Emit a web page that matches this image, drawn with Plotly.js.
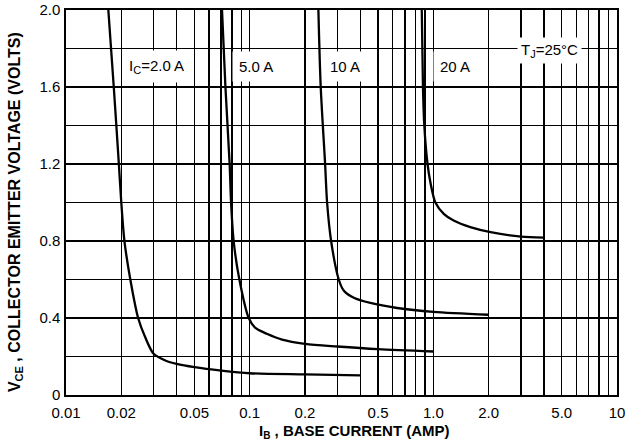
<!DOCTYPE html>
<html>
<head>
<meta charset="utf-8">
<script src="https://cdn.plot.ly/plotly-3.0.1.min.js"></script>
<style>html,body{margin:0;padding:0;background:#fff;}#chart{width:633px;height:444px;}</style>
</head>
<body>
<div id="chart"></div>
<script>
// Base current IB (A) and VCE (V) for each collector current
var ib_2A  = [0.0170,0.0182,0.0194,0.0200,0.0208,0.0224,0.0247,0.0270,0.0300,0.0350,0.0400,0.0500,0.0700,0.1000,0.2000,0.4000];
var vce_2A = [2.0,1.6,1.2,1.0,0.8,0.6,0.4,0.30,0.214,0.178,0.162,0.145,0.127,0.113,0.107,0.102];

var ib_5A  = [0.0707,0.0738,0.0778,0.0792,0.0818,0.0879,0.0988,0.107,0.124,0.150,0.200,0.300,0.500,1.000];
var vce_5A = [2.0,1.6,1.2,1.0,0.8,0.6,0.4,0.35,0.318,0.288,0.266,0.252,0.238,0.226];

var ib_10A  = [0.2367,0.2437,0.2575,0.264,0.2776,0.3055,0.325,0.369,0.454,0.635,1.0,2.0];
var vce_10A = [2.0,1.6,1.2,1.0,0.8,0.6,0.543,0.505,0.478,0.452,0.432,0.417];

var ib_20A  = [0.865,0.878,0.893,0.930,0.966,1.026,1.14,1.29,1.59,2.05,3.0,4.0];
var vce_20A = [2.0,1.6,1.4,1.2,1.1,1.0,0.941,0.906,0.872,0.846,0.823,0.818];

function sub(t, px, shift){
  return '<span style="font-size:' + px + 'px;baseline-shift:-' + shift + 'px">' + t + '</span>';
}

var curveLabels = ["I" + sub("C",11,3) + "=2.0 A","5.0 A","10 A","20 A"];

var xTickVals = [0.01,0.02,0.05,0.1,0.2,0.5,1,2,5,10];
var xTickText = ["0.01","0.02","0.05","0.1","0.2","0.5","1.0","2.0","5.0","10"];
var xGridVals = [0.01,0.02,0.03,0.04,0.05,0.06,0.07,0.08,0.09,
                 0.1,0.2,0.3,0.4,0.5,0.6,0.7,0.8,0.9,
                 1,2,3,4,5,6,7,8,9,10];
var yTickVals = [0,0.4,0.8,1.2,1.6,2.0];
var yTickText = ["0","0.4","0.8","1.2","1.6","2.0"];
var yGridVals = [0.2,0.6,1.0,1.4,1.8];

var FONT = "Liberation Sans, Arial, Helvetica, sans-serif";

function curve(x,y,name){
  return {x:x,y:y,name:name,type:'scatter',mode:'lines',
    line:{color:'#000',width:2.3,shape:'spline',smoothing:0.8},
    hoverinfo:'skip',showlegend:false};
}
var data = [
  curve(ib_2A,vce_2A,"2.0 A"),
  curve(ib_5A,vce_5A,"5.0 A"),
  curve(ib_10A,vce_10A,"10 A"),
  curve(ib_20A,vce_20A,"20 A")
];

var labelX = [0.165,0.345,0.506,0.706];
var annotations = [];
for (var i=0;i<curveLabels.length;i++){
  annotations.push({xref:'paper',yref:'paper',x:labelX[i],y:0.852,text:curveLabels[i],
    showarrow:false,xanchor:'center',yanchor:'middle',bgcolor:'#fff',borderpad:6,
    font:{family:FONT,size:15,color:'#000'}});
}
annotations.push({xref:'paper',yref:'paper',x:0.878,y:0.896,text:"T" + sub("J",11,3) + "=25°C",
  showarrow:false,xanchor:'center',yanchor:'middle',bgcolor:'#fff',borderpad:3,
  font:{family:FONT,size:15,color:'#000'}});
annotations.push({xref:'paper',yref:'paper',x:0.5245,y:-0.096,text:"I" + sub("B",10,3) + " , BASE CURRENT (AMP)",
  showarrow:false,xanchor:'center',yanchor:'middle',
  font:{family:FONT,size:15,color:'#000',weight:'bold'}});
annotations.push({xref:'paper',yref:'paper',x:-0.0926,y:0.475,text:"V" + sub("CE",11,3) + " , COLLECTOR EMITTER VOLTAGE (VOLTS)",
  showarrow:false,xanchor:'center',yanchor:'middle',textangle:-90,
  font:{family:FONT,size:16,color:'#000',weight:'bold'}});

var GW = 1.5;
var layout = {
  width:633,height:444,
  margin:{l:66,r:16,t:10,b:49},
  paper_bgcolor:'#fff',plot_bgcolor:'#fff',
  font:{family:FONT,size:15,color:'#000'},
  xaxis:{type:'log',range:[-2,1],tickmode:'array',tickvals:xTickVals,ticktext:xTickText,
    showgrid:true,gridcolor:'#000',gridwidth:GW,showline:true,linecolor:'#000',linewidth:1.6,
    mirror:true,ticks:'outside',ticklen:3,tickcolor:'rgba(0,0,0,0)',zeroline:false,
    minor:{tickmode:'array',tickvals:xGridVals,showgrid:true,gridcolor:'#000',gridwidth:GW,ticks:''},
    tickfont:{family:FONT,size:15,color:'#000'}},
  yaxis:{range:[0,2],tickmode:'array',tickvals:yTickVals,ticktext:yTickText,
    showgrid:true,gridcolor:'#000',gridwidth:GW,showline:true,linecolor:'#000',linewidth:1.6,
    mirror:true,ticks:'outside',ticklen:1,tickcolor:'rgba(0,0,0,0)',zeroline:false,
    minor:{tickmode:'array',tickvals:yGridVals,showgrid:true,gridcolor:'#000',gridwidth:GW,ticks:''},
    tickfont:{family:FONT,size:15,color:'#000'}},
  annotations:annotations
};
Plotly.newPlot('chart',data,layout,{staticPlot:true,displayModeBar:false});
</script>
</body>
</html>
